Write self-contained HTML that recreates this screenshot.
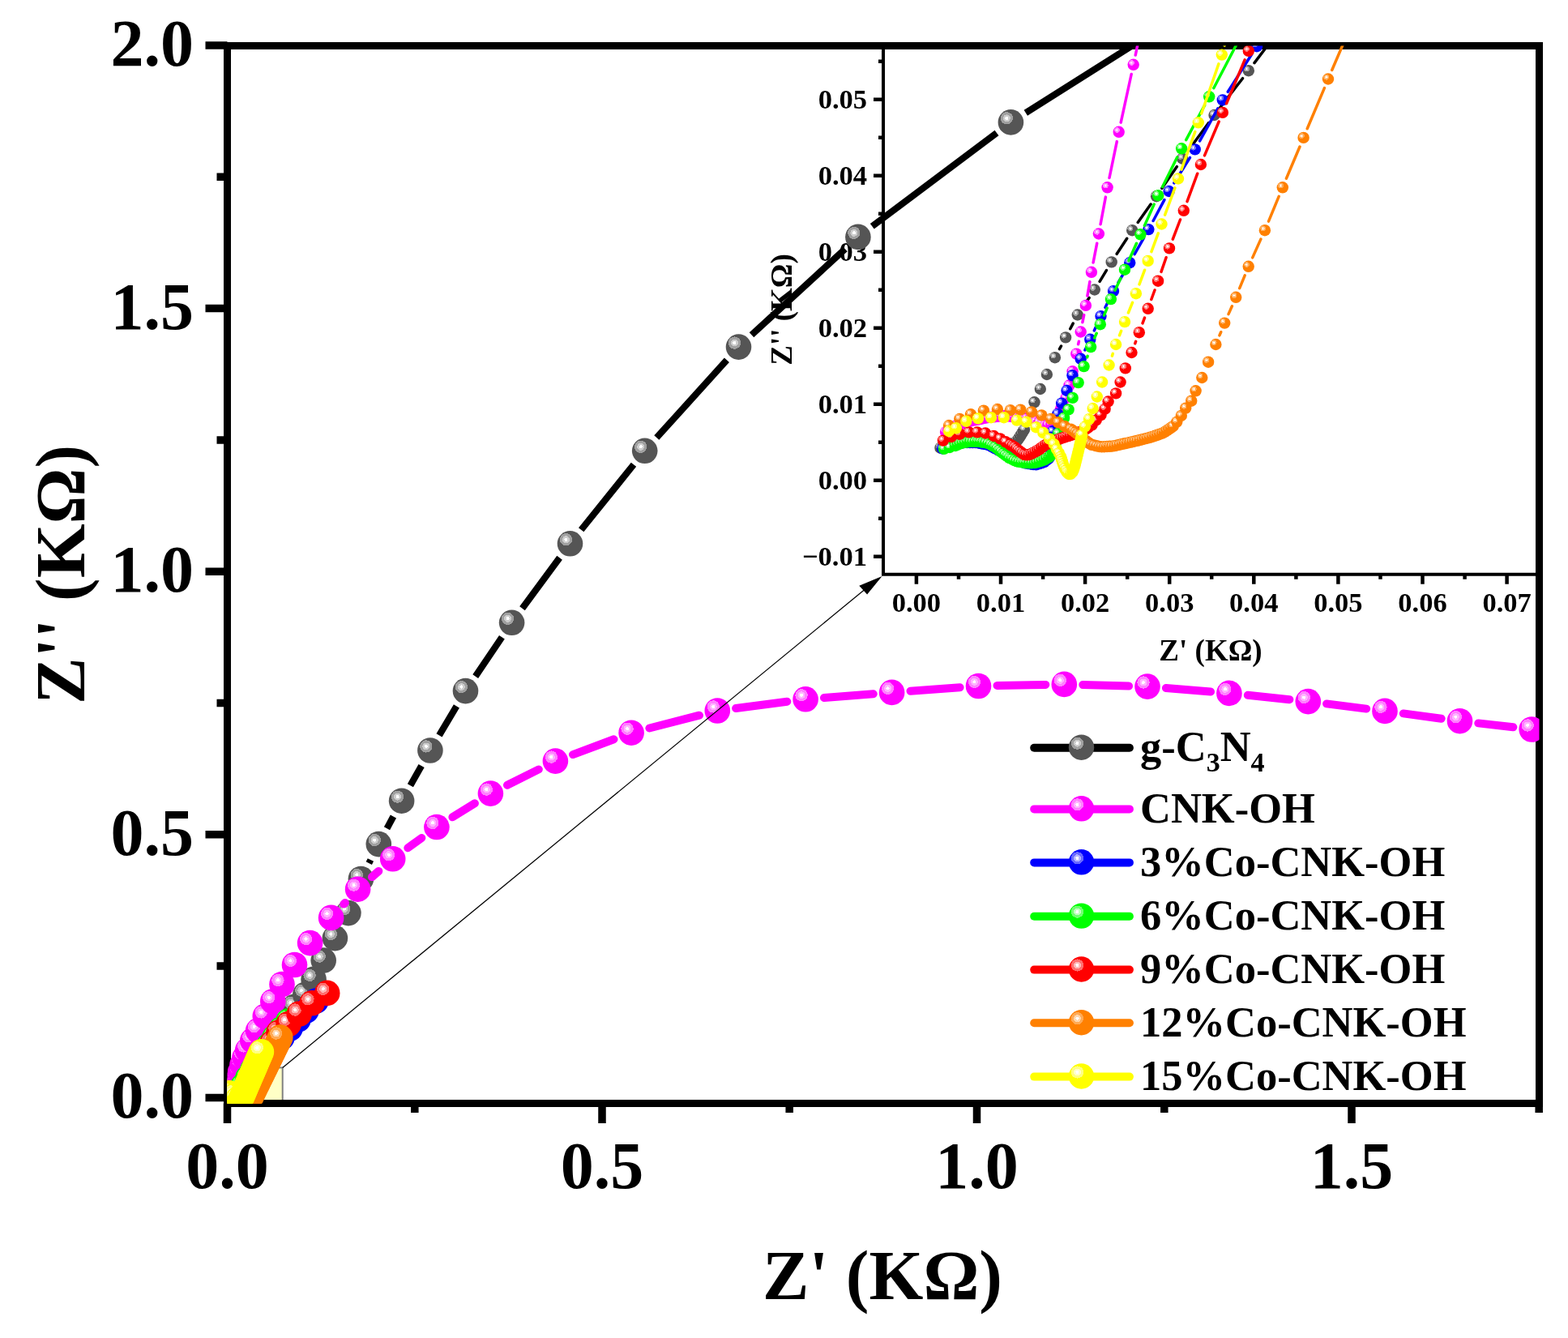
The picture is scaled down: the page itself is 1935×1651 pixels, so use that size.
<!DOCTYPE html>
<html><head><meta charset="utf-8"><title>Nyquist plot</title>
<style>html,body{margin:0;padding:0;background:#fff;width:1935px;height:1651px;overflow:hidden}svg{display:block}</style>
</head><body>
<svg width="1935" height="1651" viewBox="0 0 1935 1651">
<defs>
<radialGradient id="g_gray" cx="0.34" cy="0.34" r="0.5" fx="0.34" fy="0.34"><stop offset="0" stop-color="#ffffff"/><stop offset="0.13" stop-color="#ffffff"/><stop offset="0.13" stop-color="#cdcdcd"/><stop offset="0.28" stop-color="#cdcdcd"/><stop offset="0.28" stop-color="#a0a0a0"/><stop offset="0.48" stop-color="#a0a0a0"/><stop offset="0.48" stop-color="#555555"/><stop offset="1" stop-color="#555555"/></radialGradient>
<radialGradient id="g_magenta" cx="0.34" cy="0.34" r="0.5" fx="0.34" fy="0.34"><stop offset="0" stop-color="#ffffff"/><stop offset="0.13" stop-color="#ffffff"/><stop offset="0.13" stop-color="#ffb4ff"/><stop offset="0.28" stop-color="#ffb4ff"/><stop offset="0.28" stop-color="#ff80ff"/><stop offset="0.48" stop-color="#ff80ff"/><stop offset="0.48" stop-color="#ff00ff"/><stop offset="1" stop-color="#ff00ff"/></radialGradient>
<radialGradient id="g_blue" cx="0.34" cy="0.34" r="0.5" fx="0.34" fy="0.34"><stop offset="0" stop-color="#ffffff"/><stop offset="0.13" stop-color="#ffffff"/><stop offset="0.13" stop-color="#b4b4ff"/><stop offset="0.28" stop-color="#b4b4ff"/><stop offset="0.28" stop-color="#6a6aff"/><stop offset="0.48" stop-color="#6a6aff"/><stop offset="0.48" stop-color="#0000ff"/><stop offset="1" stop-color="#0000ff"/></radialGradient>
<radialGradient id="g_green" cx="0.34" cy="0.34" r="0.5" fx="0.34" fy="0.34"><stop offset="0" stop-color="#ffffff"/><stop offset="0.13" stop-color="#ffffff"/><stop offset="0.13" stop-color="#c0ffc0"/><stop offset="0.28" stop-color="#c0ffc0"/><stop offset="0.28" stop-color="#70ff70"/><stop offset="0.48" stop-color="#70ff70"/><stop offset="0.48" stop-color="#00ff00"/><stop offset="1" stop-color="#00ff00"/></radialGradient>
<radialGradient id="g_red" cx="0.34" cy="0.34" r="0.5" fx="0.34" fy="0.34"><stop offset="0" stop-color="#ffffff"/><stop offset="0.13" stop-color="#ffffff"/><stop offset="0.13" stop-color="#ffb8b8"/><stop offset="0.28" stop-color="#ffb8b8"/><stop offset="0.28" stop-color="#ff6e6e"/><stop offset="0.48" stop-color="#ff6e6e"/><stop offset="0.48" stop-color="#ff0000"/><stop offset="1" stop-color="#ff0000"/></radialGradient>
<radialGradient id="g_orange" cx="0.34" cy="0.34" r="0.5" fx="0.34" fy="0.34"><stop offset="0" stop-color="#ffffff"/><stop offset="0.13" stop-color="#ffffff"/><stop offset="0.13" stop-color="#ffd6ac"/><stop offset="0.28" stop-color="#ffd6ac"/><stop offset="0.28" stop-color="#ffaa55"/><stop offset="0.48" stop-color="#ffaa55"/><stop offset="0.48" stop-color="#ff8000"/><stop offset="1" stop-color="#ff8000"/></radialGradient>
<radialGradient id="g_yellow" cx="0.34" cy="0.34" r="0.5" fx="0.34" fy="0.34"><stop offset="0" stop-color="#ffffff"/><stop offset="0.13" stop-color="#ffffff"/><stop offset="0.13" stop-color="#ffffc8"/><stop offset="0.28" stop-color="#ffffc8"/><stop offset="0.28" stop-color="#ffff80"/><stop offset="0.48" stop-color="#ffff80"/><stop offset="0.48" stop-color="#ffff00"/><stop offset="1" stop-color="#ffff00"/></radialGradient>
<clipPath id="cmain"><rect x="280.5" y="56.5" width="1619" height="1305"/></clipPath>
<clipPath id="cins"><rect x="1090" y="56.5" width="809.5" height="652.3"/></clipPath>
</defs>
<rect x="277" y="1317.4" width="71.7" height="44" fill="#ffffc6" stroke="#808080" stroke-width="2"/>
<g stroke="#000" stroke-width="9" fill="none" stroke-linecap="square">
<path d="M280.5 56.5H1899.5V1361.5H280.5Z"/>
</g>
<path d="M280.5 1354.4H253.5 M280.5 1029.8H253.5 M280.5 705.2H253.5 M280.5 380.6H253.5 M280.5 56H253.5 M280.5 1192.1H267.5 M280.5 867.5H267.5 M280.5 542.9H267.5 M280.5 218.3H267.5 M280.5 1361.5V1386 M743 1361.5V1386 M1205.5 1361.5V1386 M1668 1361.5V1386 M511.8 1361.5V1373 M974.2 1361.5V1373 M1436.8 1361.5V1373 M1899.2 1361.5V1373" stroke="#000" stroke-width="9.5" fill="none"/>
<g font-family="'Liberation Serif','Times New Roman',serif" font-weight="bold" font-size="82" fill="#000"><text x="239" y="1379.4" text-anchor="end">0.0</text><text x="239" y="1054.8" text-anchor="end">0.5</text><text x="239" y="730.2" text-anchor="end">1.0</text><text x="239" y="405.6" text-anchor="end">1.5</text><text x="239" y="81" text-anchor="end">2.0</text><text x="280.5" y="1466" text-anchor="middle">0.0</text><text x="743" y="1466" text-anchor="middle">0.5</text><text x="1205.5" y="1466" text-anchor="middle">1.0</text><text x="1668" y="1466" text-anchor="middle">1.5</text></g>
<text font-family="'Liberation Serif','Times New Roman',serif" font-weight="bold" font-size="86" x="1089" y="1602.6" text-anchor="middle">Z&#39; (K&#937;)</text>
<text font-family="'Liberation Serif','Times New Roman',serif" font-weight="bold" font-size="86" transform="translate(104 708.8) rotate(-90)" text-anchor="middle">Z&#39;&#39; (K&#937;)</text>
<path d="M1090 56.5V708.8H1899.5" stroke="#000" stroke-width="4" fill="none" stroke-linecap="square"/>
<path d="M1090 686.8H1078 M1090 592.8H1078 M1090 498.8H1078 M1090 404.8H1078 M1090 310.8H1078 M1090 216.8H1078 M1090 122.8H1078 M1090 639.8H1084 M1090 545.8H1084 M1090 451.8H1084 M1090 357.8H1084 M1090 263.8H1084 M1090 169.8H1084 M1090 75.8H1084 M1130.9 708.8V720.8 M1235 708.8V720.8 M1339.1 708.8V720.8 M1443.2 708.8V720.8 M1547.3 708.8V720.8 M1651.4 708.8V720.8 M1755.5 708.8V720.8 M1859.6 708.8V720.8 M1183 708.8V714.8 M1287.1 708.8V714.8 M1391.2 708.8V714.8 M1495.2 708.8V714.8 M1599.4 708.8V714.8 M1703.5 708.8V714.8 M1807.6 708.8V714.8" stroke="#000" stroke-width="4.5" fill="none"/>
<g font-family="'Liberation Serif','Times New Roman',serif" font-weight="bold" font-size="34.5" fill="#000"><text x="1070" y="698" text-anchor="end">−0.01</text><text x="1070" y="604" text-anchor="end">0.00</text><text x="1070" y="510" text-anchor="end">0.01</text><text x="1070" y="416" text-anchor="end">0.02</text><text x="1070" y="322" text-anchor="end">0.03</text><text x="1070" y="228" text-anchor="end">0.04</text><text x="1070" y="134" text-anchor="end">0.05</text><text x="1130.9" y="755.2" text-anchor="middle">0.00</text><text x="1235" y="755.2" text-anchor="middle">0.01</text><text x="1339.1" y="755.2" text-anchor="middle">0.02</text><text x="1443.2" y="755.2" text-anchor="middle">0.03</text><text x="1547.3" y="755.2" text-anchor="middle">0.04</text><text x="1651.4" y="755.2" text-anchor="middle">0.05</text><text x="1755.5" y="755.2" text-anchor="middle">0.06</text><text x="1859.6" y="755.2" text-anchor="middle">0.07</text></g>
<text font-family="'Liberation Serif','Times New Roman',serif" font-weight="bold" font-size="37" x="1494" y="814.8" text-anchor="middle">Z&#39; (K&#937;)</text>
<text font-family="'Liberation Serif','Times New Roman',serif" font-weight="bold" font-size="37" transform="translate(977 382) rotate(-90)" text-anchor="middle">Z&#39;&#39; (K&#937;)</text>
<path d="M1276.2 922.8H1393.9" stroke="#000000" stroke-width="10" stroke-linecap="round"/>
<circle cx="1334.5" cy="922.2" r="15.7" fill="url(#g_gray)"/>
<text font-family="'Liberation Serif','Times New Roman',serif" font-weight="bold" font-size="52.5" x="1407" y="939">g-C<tspan font-size="34" dy="13">3</tspan><tspan dy="-13">N</tspan><tspan font-size="34" dy="13">4</tspan></text>
<path d="M1276.2 998.4H1393.9" stroke="#ff00ff" stroke-width="10" stroke-linecap="round"/>
<circle cx="1334.5" cy="997.8" r="15.7" fill="url(#g_magenta)"/>
<text font-family="'Liberation Serif','Times New Roman',serif" font-weight="bold" font-size="52.5" x="1407" y="1014.6">CNK-OH</text>
<path d="M1276.2 1064.4H1393.9" stroke="#0000ff" stroke-width="10" stroke-linecap="round"/>
<circle cx="1334.5" cy="1063.8" r="15.7" fill="url(#g_blue)"/>
<text font-family="'Liberation Serif','Times New Roman',serif" font-weight="bold" font-size="52.5" x="1407" y="1080.6">3%Co-CNK-OH</text>
<path d="M1276.2 1130.7H1393.9" stroke="#00ff00" stroke-width="10" stroke-linecap="round"/>
<circle cx="1334.5" cy="1130.1" r="15.7" fill="url(#g_green)"/>
<text font-family="'Liberation Serif','Times New Roman',serif" font-weight="bold" font-size="52.5" x="1407" y="1146.9">6%Co-CNK-OH</text>
<path d="M1276.2 1196.6H1393.9" stroke="#ff0000" stroke-width="10" stroke-linecap="round"/>
<circle cx="1334.5" cy="1196" r="15.7" fill="url(#g_red)"/>
<text font-family="'Liberation Serif','Times New Roman',serif" font-weight="bold" font-size="52.5" x="1407" y="1212.8">9%Co-CNK-OH</text>
<path d="M1276.2 1262.3H1393.9" stroke="#ff8000" stroke-width="10" stroke-linecap="round"/>
<circle cx="1334.5" cy="1261.7" r="15.7" fill="url(#g_orange)"/>
<text font-family="'Liberation Serif','Times New Roman',serif" font-weight="bold" font-size="52.5" x="1407" y="1278.5">12%Co-CNK-OH</text>
<path d="M1276.2 1328.6H1393.9" stroke="#ffff00" stroke-width="10" stroke-linecap="round"/>
<circle cx="1334.5" cy="1328" r="15.7" fill="url(#g_yellow)"/>
<text font-family="'Liberation Serif','Times New Roman',serif" font-weight="bold" font-size="52.5" x="1407" y="1344.8">15%Co-CNK-OH</text>
<g clip-path="url(#cmain)">
<path d="M437.4 1106.1L437.9 1105 M455.3 1065.1L457.4 1061 M477.5 1022.3L485.4 1007.5 M506.4 969.2L520.1 945 M542 907.3L563.4 871.3 M586.7 834.6L619.4 786.3 M644.5 750.8L690.6 688.3 M717.2 653.8L782 573.3 M810.3 540.1L896.9 444.3 M927.5 413.3L1042.9 307.2 M1076.3 279.3L1230 164 M1265.8 139.3L1480 4" stroke="#000000" stroke-width="8.2" stroke-linecap="butt" fill="none"/>
<circle cx="286" cy="1351" r="15.8" fill="url(#g_gray)"/>
<circle cx="292" cy="1342" r="15.8" fill="url(#g_gray)"/>
<circle cx="299" cy="1332" r="15.8" fill="url(#g_gray)"/>
<circle cx="306" cy="1321" r="15.8" fill="url(#g_gray)"/>
<circle cx="314" cy="1309" r="15.8" fill="url(#g_gray)"/>
<circle cx="322" cy="1296" r="15.8" fill="url(#g_gray)"/>
<circle cx="331" cy="1283" r="15.8" fill="url(#g_gray)"/>
<circle cx="341" cy="1270" r="15.8" fill="url(#g_gray)"/>
<circle cx="352" cy="1256" r="15.8" fill="url(#g_gray)"/>
<circle cx="363.5" cy="1242.3" r="15.8" fill="url(#g_gray)"/>
<circle cx="376.8" cy="1227.2" r="15.8" fill="url(#g_gray)"/>
<circle cx="387.1" cy="1208.4" r="15.8" fill="url(#g_gray)"/>
<circle cx="399.2" cy="1185.1" r="15.8" fill="url(#g_gray)"/>
<circle cx="413.4" cy="1157.6" r="15.8" fill="url(#g_gray)"/>
<circle cx="429.9" cy="1126.6" r="15.8" fill="url(#g_gray)"/>
<circle cx="445.4" cy="1084.5" r="15.8" fill="url(#g_gray)"/>
<circle cx="467.3" cy="1041.6" r="15.8" fill="url(#g_gray)"/>
<circle cx="495.6" cy="988.2" r="15.8" fill="url(#g_gray)"/>
<circle cx="530.9" cy="926" r="15.8" fill="url(#g_gray)"/>
<circle cx="574.5" cy="852.6" r="15.8" fill="url(#g_gray)"/>
<circle cx="631.6" cy="768.3" r="15.8" fill="url(#g_gray)"/>
<circle cx="703.5" cy="670.8" r="15.8" fill="url(#g_gray)"/>
<circle cx="795.7" cy="556.3" r="15.8" fill="url(#g_gray)"/>
<circle cx="911.5" cy="428.1" r="15.8" fill="url(#g_gray)"/>
<circle cx="1058.9" cy="292.4" r="15.8" fill="url(#g_gray)"/>
<circle cx="1247.4" cy="150.9" r="15.8" fill="url(#g_gray)"/>
<path d="M424.3 1115.6L425.9 1114 M459 1082.1L467.3 1074.9 M503.3 1046.3L520.3 1034 M558.4 1008.3L585.9 991.3 M626 968.8L664.8 949.4 M707 931.1L757.5 912.2 M801.4 898.5L863 882.7 M908.1 874L971.3 865.8 M1017 861L1077.7 856.2 M1123.5 852.7L1184.6 848.2 M1230.5 846L1290.3 844.9 M1336.3 845L1393 846.5 M1438.9 849L1494 853.5 M1539.8 857.8L1591.4 863.2 M1637.1 868.4L1686.2 874.6 M1731.8 880.4L1778.7 886.7 M1824.3 892.4L1867.4 897.3 M1913 902.7L1990 912" stroke="#ff00ff" stroke-width="10" stroke-linecap="round" fill="none"/>
<circle cx="289" cy="1350" r="15.8" fill="url(#g_magenta)"/>
<circle cx="291.5" cy="1341" r="15.8" fill="url(#g_magenta)"/>
<circle cx="294" cy="1332" r="15.8" fill="url(#g_magenta)"/>
<circle cx="296.5" cy="1323" r="15.8" fill="url(#g_magenta)"/>
<circle cx="299" cy="1314" r="15.8" fill="url(#g_magenta)"/>
<circle cx="301.9" cy="1305.1" r="15.8" fill="url(#g_magenta)"/>
<circle cx="305.7" cy="1296" r="15.8" fill="url(#g_magenta)"/>
<circle cx="311.8" cy="1283.9" r="15.8" fill="url(#g_magenta)"/>
<circle cx="318.6" cy="1271.8" r="15.8" fill="url(#g_magenta)"/>
<circle cx="327.3" cy="1254" r="15.8" fill="url(#g_magenta)"/>
<circle cx="336.8" cy="1235.7" r="15.8" fill="url(#g_magenta)"/>
<circle cx="348" cy="1214.5" r="15.8" fill="url(#g_magenta)"/>
<circle cx="363.5" cy="1190.5" r="15.8" fill="url(#g_magenta)"/>
<circle cx="382.6" cy="1163.6" r="15.8" fill="url(#g_magenta)"/>
<circle cx="408.6" cy="1132.4" r="15.8" fill="url(#g_magenta)"/>
<circle cx="441.6" cy="1097.2" r="15.8" fill="url(#g_magenta)"/>
<circle cx="484.7" cy="1059.8" r="15.8" fill="url(#g_magenta)"/>
<circle cx="538.9" cy="1020.5" r="15.8" fill="url(#g_magenta)"/>
<circle cx="605.4" cy="979.1" r="15.8" fill="url(#g_magenta)"/>
<circle cx="685.4" cy="939.1" r="15.8" fill="url(#g_magenta)"/>
<circle cx="779.1" cy="904.2" r="15.8" fill="url(#g_magenta)"/>
<circle cx="885.3" cy="877" r="15.8" fill="url(#g_magenta)"/>
<circle cx="994.1" cy="862.8" r="15.8" fill="url(#g_magenta)"/>
<circle cx="1100.6" cy="854.4" r="15.8" fill="url(#g_magenta)"/>
<circle cx="1207.5" cy="846.5" r="15.8" fill="url(#g_magenta)"/>
<circle cx="1313.3" cy="844.4" r="15.8" fill="url(#g_magenta)"/>
<circle cx="1416" cy="847.1" r="15.8" fill="url(#g_magenta)"/>
<circle cx="1516.9" cy="855.4" r="15.8" fill="url(#g_magenta)"/>
<circle cx="1614.3" cy="865.6" r="15.8" fill="url(#g_magenta)"/>
<circle cx="1709" cy="877.4" r="15.8" fill="url(#g_magenta)"/>
<circle cx="1801.5" cy="889.7" r="15.8" fill="url(#g_magenta)"/>
<circle cx="1890.2" cy="900" r="15.8" fill="url(#g_magenta)"/>
<circle cx="294" cy="1350" r="15.8" fill="url(#g_blue)"/>
<circle cx="303" cy="1338" r="15.8" fill="url(#g_blue)"/>
<circle cx="312" cy="1326" r="15.8" fill="url(#g_blue)"/>
<circle cx="321" cy="1314" r="15.8" fill="url(#g_blue)"/>
<circle cx="330" cy="1302" r="15.8" fill="url(#g_blue)"/>
<circle cx="339" cy="1291" r="15.8" fill="url(#g_blue)"/>
<circle cx="348" cy="1280" r="15.8" fill="url(#g_blue)"/>
<circle cx="358" cy="1269" r="15.8" fill="url(#g_blue)"/>
<circle cx="368" cy="1258" r="15.8" fill="url(#g_blue)"/>
<circle cx="378" cy="1247" r="15.8" fill="url(#g_blue)"/>
<circle cx="390" cy="1235" r="15.8" fill="url(#g_blue)"/>
<circle cx="295" cy="1349" r="15.8" fill="url(#g_green)"/>
<circle cx="300" cy="1340" r="15.8" fill="url(#g_green)"/>
<circle cx="306" cy="1330" r="15.8" fill="url(#g_green)"/>
<circle cx="312" cy="1320" r="15.8" fill="url(#g_green)"/>
<circle cx="318" cy="1310" r="15.8" fill="url(#g_green)"/>
<circle cx="325" cy="1300" r="15.8" fill="url(#g_green)"/>
<circle cx="332" cy="1290" r="15.8" fill="url(#g_green)"/>
<circle cx="339" cy="1280" r="15.8" fill="url(#g_green)"/>
<circle cx="347" cy="1270" r="15.8" fill="url(#g_green)"/>
<circle cx="356" cy="1260" r="15.8" fill="url(#g_green)"/>
<circle cx="303" cy="1352" r="15.8" fill="url(#g_red)"/>
<circle cx="309" cy="1339" r="15.8" fill="url(#g_red)"/>
<circle cx="315" cy="1326" r="15.8" fill="url(#g_red)"/>
<circle cx="322" cy="1313" r="15.8" fill="url(#g_red)"/>
<circle cx="329" cy="1300" r="15.8" fill="url(#g_red)"/>
<circle cx="336" cy="1287" r="15.8" fill="url(#g_red)"/>
<circle cx="344" cy="1274" r="15.8" fill="url(#g_red)"/>
<circle cx="356.2" cy="1263.5" r="15.8" fill="url(#g_red)"/>
<circle cx="369.2" cy="1251.1" r="15.8" fill="url(#g_red)"/>
<circle cx="385" cy="1237.8" r="15.8" fill="url(#g_red)"/>
<circle cx="403.7" cy="1225.4" r="15.8" fill="url(#g_red)"/>
<circle cx="300.2" cy="1373.1" r="15.8" fill="url(#g_orange)"/>
<circle cx="301.7" cy="1370.1" r="15.8" fill="url(#g_orange)"/>
<circle cx="303.2" cy="1367.1" r="15.8" fill="url(#g_orange)"/>
<circle cx="304.6" cy="1364.1" r="15.8" fill="url(#g_orange)"/>
<circle cx="306.1" cy="1361.1" r="15.8" fill="url(#g_orange)"/>
<circle cx="307.6" cy="1358.1" r="15.8" fill="url(#g_orange)"/>
<circle cx="309.1" cy="1355.1" r="15.8" fill="url(#g_orange)"/>
<circle cx="310.5" cy="1352.1" r="15.8" fill="url(#g_orange)"/>
<circle cx="312" cy="1349.1" r="15.8" fill="url(#g_orange)"/>
<circle cx="313.5" cy="1346.1" r="15.8" fill="url(#g_orange)"/>
<circle cx="314.9" cy="1343.1" r="15.8" fill="url(#g_orange)"/>
<circle cx="316.4" cy="1340.1" r="15.8" fill="url(#g_orange)"/>
<circle cx="317.9" cy="1337.1" r="15.8" fill="url(#g_orange)"/>
<circle cx="319.3" cy="1334.1" r="15.8" fill="url(#g_orange)"/>
<circle cx="320.8" cy="1331.1" r="15.8" fill="url(#g_orange)"/>
<circle cx="322.3" cy="1328.1" r="15.8" fill="url(#g_orange)"/>
<circle cx="323.8" cy="1325.1" r="15.8" fill="url(#g_orange)"/>
<circle cx="325.2" cy="1322.1" r="15.8" fill="url(#g_orange)"/>
<circle cx="326.7" cy="1319.1" r="15.8" fill="url(#g_orange)"/>
<circle cx="328.2" cy="1316.1" r="15.8" fill="url(#g_orange)"/>
<circle cx="329.6" cy="1313.1" r="15.8" fill="url(#g_orange)"/>
<circle cx="331.1" cy="1310.1" r="15.8" fill="url(#g_orange)"/>
<circle cx="332.6" cy="1307.1" r="15.8" fill="url(#g_orange)"/>
<circle cx="334" cy="1304.1" r="15.8" fill="url(#g_orange)"/>
<circle cx="335.5" cy="1301.1" r="15.8" fill="url(#g_orange)"/>
<circle cx="337" cy="1298.1" r="15.8" fill="url(#g_orange)"/>
<circle cx="338.4" cy="1295.1" r="15.8" fill="url(#g_orange)"/>
<circle cx="339.9" cy="1292.1" r="15.8" fill="url(#g_orange)"/>
<circle cx="341.4" cy="1289.1" r="15.8" fill="url(#g_orange)"/>
<circle cx="342.9" cy="1286.1" r="15.8" fill="url(#g_orange)"/>
<circle cx="344.3" cy="1283.1" r="15.8" fill="url(#g_orange)"/>
<circle cx="345.8" cy="1280.1" r="15.8" fill="url(#g_orange)"/>
<circle cx="281" cy="1348.5" r="15.8" fill="url(#g_yellow)"/>
<circle cx="283" cy="1349" r="15.8" fill="url(#g_yellow)"/>
<circle cx="286" cy="1350" r="15.8" fill="url(#g_yellow)"/>
<circle cx="290" cy="1352" r="15.8" fill="url(#g_yellow)"/>
<circle cx="294" cy="1356" r="15.8" fill="url(#g_yellow)"/>
<circle cx="295.3" cy="1360.9" r="15.8" fill="url(#g_yellow)"/>
<circle cx="296.6" cy="1357.9" r="15.8" fill="url(#g_yellow)"/>
<circle cx="297.9" cy="1354.9" r="15.8" fill="url(#g_yellow)"/>
<circle cx="299.2" cy="1351.9" r="15.8" fill="url(#g_yellow)"/>
<circle cx="300.5" cy="1348.9" r="15.8" fill="url(#g_yellow)"/>
<circle cx="301.8" cy="1345.9" r="15.8" fill="url(#g_yellow)"/>
<circle cx="303" cy="1342.9" r="15.8" fill="url(#g_yellow)"/>
<circle cx="304.3" cy="1339.9" r="15.8" fill="url(#g_yellow)"/>
<circle cx="305.6" cy="1336.9" r="15.8" fill="url(#g_yellow)"/>
<circle cx="306.9" cy="1333.9" r="15.8" fill="url(#g_yellow)"/>
<circle cx="308.2" cy="1330.9" r="15.8" fill="url(#g_yellow)"/>
<circle cx="309.5" cy="1327.9" r="15.8" fill="url(#g_yellow)"/>
<circle cx="310.8" cy="1324.9" r="15.8" fill="url(#g_yellow)"/>
<circle cx="312.1" cy="1321.9" r="15.8" fill="url(#g_yellow)"/>
<circle cx="313.4" cy="1318.9" r="15.8" fill="url(#g_yellow)"/>
<circle cx="314.7" cy="1315.9" r="15.8" fill="url(#g_yellow)"/>
<circle cx="315.9" cy="1312.9" r="15.8" fill="url(#g_yellow)"/>
<circle cx="317.2" cy="1309.9" r="15.8" fill="url(#g_yellow)"/>
<circle cx="318.5" cy="1306.9" r="15.8" fill="url(#g_yellow)"/>
<circle cx="319.8" cy="1303.9" r="15.8" fill="url(#g_yellow)"/>
<circle cx="321.1" cy="1300.9" r="15.8" fill="url(#g_yellow)"/>
<circle cx="322.4" cy="1297.9" r="15.8" fill="url(#g_yellow)"/>
</g>
<path d="M348.7 1317.4L1070 725" stroke="#000" stroke-width="1.25" fill="none"/>
<path d="M1088.5 710.9L1060.3 722.8L1070.1 733.6Z" fill="#000"/>
<g clip-path="url(#cins)">
<path d="M1268.2 518.7L1272.3 507.6 M1307.5 430.6L1309.5 427 M1320.7 405.8L1324.2 399.1 M1336.5 378.6L1344.1 367.4 M1357.1 347.3L1365.4 333.6 M1378.2 313.3L1390.7 294.3 M1404.2 274.4L1420.1 252 M1433.9 232.3L1452.4 205.6 M1466.3 186L1491.4 151.7 M1505.8 132.5L1533.5 96.7 M1548 77.6L1590 22" stroke="#000000" stroke-width="3.5" stroke-linecap="round" fill="none"/>
<circle cx="1160.5" cy="552.7" r="7.2" fill="url(#g_gray)"/>
<circle cx="1163.8" cy="551.6" r="7.2" fill="url(#g_gray)"/>
<circle cx="1167.1" cy="550.4" r="7.2" fill="url(#g_gray)"/>
<circle cx="1170.4" cy="549.3" r="7.2" fill="url(#g_gray)"/>
<circle cx="1173.7" cy="548.2" r="7.2" fill="url(#g_gray)"/>
<circle cx="1177.1" cy="547" r="7.2" fill="url(#g_gray)"/>
<circle cx="1180.4" cy="545.9" r="7.2" fill="url(#g_gray)"/>
<circle cx="1183.8" cy="545.4" r="7.2" fill="url(#g_gray)"/>
<circle cx="1187.3" cy="544.9" r="7.2" fill="url(#g_gray)"/>
<circle cx="1190.8" cy="544.4" r="7.2" fill="url(#g_gray)"/>
<circle cx="1194.2" cy="543.9" r="7.2" fill="url(#g_gray)"/>
<circle cx="1197.7" cy="543.3" r="7.2" fill="url(#g_gray)"/>
<circle cx="1201.2" cy="543.1" r="7.2" fill="url(#g_gray)"/>
<circle cx="1204.7" cy="543.2" r="7.2" fill="url(#g_gray)"/>
<circle cx="1208.1" cy="543.4" r="7.2" fill="url(#g_gray)"/>
<circle cx="1211.6" cy="543.6" r="7.2" fill="url(#g_gray)"/>
<circle cx="1215.1" cy="543.8" r="7.2" fill="url(#g_gray)"/>
<circle cx="1218.6" cy="543.9" r="7.2" fill="url(#g_gray)"/>
<circle cx="1222.1" cy="544.3" r="7.2" fill="url(#g_gray)"/>
<circle cx="1225.6" cy="544.8" r="7.2" fill="url(#g_gray)"/>
<circle cx="1229" cy="545.4" r="7.2" fill="url(#g_gray)"/>
<circle cx="1232.5" cy="545.9" r="7.2" fill="url(#g_gray)"/>
<circle cx="1236" cy="546.4" r="7.2" fill="url(#g_gray)"/>
<circle cx="1239.4" cy="546.9" r="7.2" fill="url(#g_gray)"/>
<circle cx="1242.9" cy="547.2" r="7.2" fill="url(#g_gray)"/>
<circle cx="1246.4" cy="547.5" r="7.2" fill="url(#g_gray)"/>
<circle cx="1249.9" cy="547.8" r="7.2" fill="url(#g_gray)"/>
<circle cx="1252.8" cy="546.9" r="7.2" fill="url(#g_gray)"/>
<circle cx="1254.9" cy="544.1" r="7.2" fill="url(#g_gray)"/>
<circle cx="1257" cy="541.3" r="7.2" fill="url(#g_gray)"/>
<circle cx="1259" cy="538.4" r="7.2" fill="url(#g_gray)"/>
<circle cx="1260.8" cy="535.4" r="7.2" fill="url(#g_gray)"/>
<circle cx="1262.6" cy="532.4" r="7.2" fill="url(#g_gray)"/>
<circle cx="1264" cy="530" r="7.2" fill="url(#g_gray)"/>
<circle cx="1276.5" cy="496.3" r="7.2" fill="url(#g_gray)"/>
<circle cx="1283.8" cy="480" r="7.2" fill="url(#g_gray)"/>
<circle cx="1291.9" cy="462" r="7.2" fill="url(#g_gray)"/>
<circle cx="1301.9" cy="441.2" r="7.2" fill="url(#g_gray)"/>
<circle cx="1315.1" cy="416.4" r="7.2" fill="url(#g_gray)"/>
<circle cx="1329.8" cy="388.5" r="7.2" fill="url(#g_gray)"/>
<circle cx="1350.8" cy="357.5" r="7.2" fill="url(#g_gray)"/>
<circle cx="1371.7" cy="323.4" r="7.2" fill="url(#g_gray)"/>
<circle cx="1397.2" cy="284.2" r="7.2" fill="url(#g_gray)"/>
<circle cx="1427.1" cy="242.2" r="7.2" fill="url(#g_gray)"/>
<circle cx="1459.2" cy="195.7" r="7.2" fill="url(#g_gray)"/>
<circle cx="1498.5" cy="142" r="7.2" fill="url(#g_gray)"/>
<circle cx="1540.8" cy="87.2" r="7.2" fill="url(#g_gray)"/>
<path d="M1330.6 424.8L1331.4 421.3 M1335.9 397.7L1337.7 388.7 M1341.9 365.1L1344.9 347.6 M1349.1 324L1353.7 300.3 M1358.1 276.7L1364.4 243.1 M1369 219.5L1378.3 174.6 M1383.2 151.1L1396.2 91.5 M1401.2 68.1L1410 26" stroke="#ff00ff" stroke-width="3.5" stroke-linecap="round" fill="none"/>
<circle cx="1167" cy="533" r="7.2" fill="url(#g_magenta)"/>
<circle cx="1170.4" cy="530.9" r="7.2" fill="url(#g_magenta)"/>
<circle cx="1173.8" cy="528.8" r="7.2" fill="url(#g_magenta)"/>
<circle cx="1177.2" cy="526.7" r="7.2" fill="url(#g_magenta)"/>
<circle cx="1180.7" cy="524.8" r="7.2" fill="url(#g_magenta)"/>
<circle cx="1184.5" cy="523.6" r="7.2" fill="url(#g_magenta)"/>
<circle cx="1188.4" cy="522.5" r="7.2" fill="url(#g_magenta)"/>
<circle cx="1192.2" cy="521.3" r="7.2" fill="url(#g_magenta)"/>
<circle cx="1196" cy="520.2" r="7.2" fill="url(#g_magenta)"/>
<circle cx="1199.9" cy="519" r="7.2" fill="url(#g_magenta)"/>
<circle cx="1203.8" cy="518.2" r="7.2" fill="url(#g_magenta)"/>
<circle cx="1207.7" cy="517.5" r="7.2" fill="url(#g_magenta)"/>
<circle cx="1211.6" cy="516.7" r="7.2" fill="url(#g_magenta)"/>
<circle cx="1215.5" cy="515.9" r="7.2" fill="url(#g_magenta)"/>
<circle cx="1219.5" cy="515.1" r="7.2" fill="url(#g_magenta)"/>
<circle cx="1223.4" cy="514.7" r="7.2" fill="url(#g_magenta)"/>
<circle cx="1227.4" cy="514.3" r="7.2" fill="url(#g_magenta)"/>
<circle cx="1231.4" cy="513.9" r="7.2" fill="url(#g_magenta)"/>
<circle cx="1235.4" cy="513.5" r="7.2" fill="url(#g_magenta)"/>
<circle cx="1239.4" cy="513.1" r="7.2" fill="url(#g_magenta)"/>
<circle cx="1243.3" cy="513.4" r="7.2" fill="url(#g_magenta)"/>
<circle cx="1247.3" cy="513.8" r="7.2" fill="url(#g_magenta)"/>
<circle cx="1251.3" cy="514.3" r="7.2" fill="url(#g_magenta)"/>
<circle cx="1255.3" cy="514.8" r="7.2" fill="url(#g_magenta)"/>
<circle cx="1259.2" cy="515.2" r="7.2" fill="url(#g_magenta)"/>
<circle cx="1263.2" cy="515.7" r="7.2" fill="url(#g_magenta)"/>
<circle cx="1267.1" cy="516.3" r="7.2" fill="url(#g_magenta)"/>
<circle cx="1271" cy="517.5" r="7.2" fill="url(#g_magenta)"/>
<circle cx="1274.8" cy="518.7" r="7.2" fill="url(#g_magenta)"/>
<circle cx="1278.6" cy="519.9" r="7.2" fill="url(#g_magenta)"/>
<circle cx="1282.3" cy="521.4" r="7.2" fill="url(#g_magenta)"/>
<circle cx="1286" cy="522.9" r="7.2" fill="url(#g_magenta)"/>
<circle cx="1289.7" cy="524.5" r="7.2" fill="url(#g_magenta)"/>
<circle cx="1293.5" cy="524.4" r="7.2" fill="url(#g_magenta)"/>
<circle cx="1297.4" cy="523.6" r="7.2" fill="url(#g_magenta)"/>
<circle cx="1300.7" cy="521.8" r="7.2" fill="url(#g_magenta)"/>
<circle cx="1302.6" cy="518.3" r="7.2" fill="url(#g_magenta)"/>
<circle cx="1304.5" cy="514.8" r="7.2" fill="url(#g_magenta)"/>
<circle cx="1306.3" cy="511.2" r="7.2" fill="url(#g_magenta)"/>
<circle cx="1307.9" cy="507.5" r="7.2" fill="url(#g_magenta)"/>
<circle cx="1309.4" cy="503.8" r="7.2" fill="url(#g_magenta)"/>
<circle cx="1310.9" cy="500.2" r="7.2" fill="url(#g_magenta)"/>
<circle cx="1315.5" cy="491" r="7.2" fill="url(#g_magenta)"/>
<circle cx="1319.5" cy="475.5" r="7.2" fill="url(#g_magenta)"/>
<circle cx="1323.6" cy="458.3" r="7.2" fill="url(#g_magenta)"/>
<circle cx="1328.3" cy="436.6" r="7.2" fill="url(#g_magenta)"/>
<circle cx="1333.7" cy="409.5" r="7.2" fill="url(#g_magenta)"/>
<circle cx="1339.9" cy="376.9" r="7.2" fill="url(#g_magenta)"/>
<circle cx="1346.9" cy="335.8" r="7.2" fill="url(#g_magenta)"/>
<circle cx="1355.9" cy="288.5" r="7.2" fill="url(#g_magenta)"/>
<circle cx="1366.6" cy="231.3" r="7.2" fill="url(#g_magenta)"/>
<circle cx="1380.7" cy="162.8" r="7.2" fill="url(#g_magenta)"/>
<circle cx="1398.7" cy="79.8" r="7.2" fill="url(#g_magenta)"/>
<path d="M1338.9 432L1340.1 429.6 M1350.3 407.9L1353.5 401 M1363.9 379.4L1368.6 369.8 M1380 348.7L1388.2 334.6 M1400.1 313.7L1411.5 293.6 M1423.1 272.5L1436.9 246.6 M1448.9 225.8L1468.4 194.6 M1480.6 173.9L1502.9 133.9 M1515.3 113.3L1544.5 67.3 M1557.1 46.9L1580 8" stroke="#0000ff" stroke-width="3.5" stroke-linecap="round" fill="none"/>
<circle cx="1163" cy="553.5" r="7.2" fill="url(#g_blue)"/>
<circle cx="1166.3" cy="552.3" r="7.2" fill="url(#g_blue)"/>
<circle cx="1169.6" cy="551" r="7.2" fill="url(#g_blue)"/>
<circle cx="1172.8" cy="549.8" r="7.2" fill="url(#g_blue)"/>
<circle cx="1176.2" cy="548.8" r="7.2" fill="url(#g_blue)"/>
<circle cx="1179.6" cy="548.1" r="7.2" fill="url(#g_blue)"/>
<circle cx="1183" cy="547.4" r="7.2" fill="url(#g_blue)"/>
<circle cx="1186.5" cy="546.7" r="7.2" fill="url(#g_blue)"/>
<circle cx="1189.9" cy="546" r="7.2" fill="url(#g_blue)"/>
<circle cx="1193.4" cy="546" r="7.2" fill="url(#g_blue)"/>
<circle cx="1196.9" cy="546" r="7.2" fill="url(#g_blue)"/>
<circle cx="1200.4" cy="546" r="7.2" fill="url(#g_blue)"/>
<circle cx="1203.9" cy="546" r="7.2" fill="url(#g_blue)"/>
<circle cx="1207.3" cy="546.5" r="7.2" fill="url(#g_blue)"/>
<circle cx="1210.8" cy="547.2" r="7.2" fill="url(#g_blue)"/>
<circle cx="1214.2" cy="547.8" r="7.2" fill="url(#g_blue)"/>
<circle cx="1217.6" cy="548.5" r="7.2" fill="url(#g_blue)"/>
<circle cx="1221" cy="549.5" r="7.2" fill="url(#g_blue)"/>
<circle cx="1224" cy="551.2" r="7.2" fill="url(#g_blue)"/>
<circle cx="1227.1" cy="552.8" r="7.2" fill="url(#g_blue)"/>
<circle cx="1230.2" cy="554.5" r="7.2" fill="url(#g_blue)"/>
<circle cx="1233.3" cy="556.1" r="7.2" fill="url(#g_blue)"/>
<circle cx="1236.4" cy="557.7" r="7.2" fill="url(#g_blue)"/>
<circle cx="1239.5" cy="559.4" r="7.2" fill="url(#g_blue)"/>
<circle cx="1242.6" cy="561" r="7.2" fill="url(#g_blue)"/>
<circle cx="1245.7" cy="562.7" r="7.2" fill="url(#g_blue)"/>
<circle cx="1248.8" cy="564.3" r="7.2" fill="url(#g_blue)"/>
<circle cx="1251.9" cy="565.8" r="7.2" fill="url(#g_blue)"/>
<circle cx="1255.1" cy="567.2" r="7.2" fill="url(#g_blue)"/>
<circle cx="1258.3" cy="568.6" r="7.2" fill="url(#g_blue)"/>
<circle cx="1261.6" cy="570" r="7.2" fill="url(#g_blue)"/>
<circle cx="1264.8" cy="571.4" r="7.2" fill="url(#g_blue)"/>
<circle cx="1268.2" cy="572" r="7.2" fill="url(#g_blue)"/>
<circle cx="1271.7" cy="572.5" r="7.2" fill="url(#g_blue)"/>
<circle cx="1275.1" cy="573.1" r="7.2" fill="url(#g_blue)"/>
<circle cx="1278.6" cy="573.3" r="7.2" fill="url(#g_blue)"/>
<circle cx="1281.9" cy="572.3" r="7.2" fill="url(#g_blue)"/>
<circle cx="1285.3" cy="571.3" r="7.2" fill="url(#g_blue)"/>
<circle cx="1288.5" cy="570.1" r="7.2" fill="url(#g_blue)"/>
<circle cx="1291.3" cy="567.9" r="7.2" fill="url(#g_blue)"/>
<circle cx="1294" cy="565.8" r="7.2" fill="url(#g_blue)"/>
<circle cx="1295.9" cy="562.9" r="7.2" fill="url(#g_blue)"/>
<circle cx="1297.3" cy="559.7" r="7.2" fill="url(#g_blue)"/>
<circle cx="1298.8" cy="556.6" r="7.2" fill="url(#g_blue)"/>
<circle cx="1299.4" cy="553.1" r="7.2" fill="url(#g_blue)"/>
<circle cx="1299.9" cy="549.7" r="7.2" fill="url(#g_blue)"/>
<circle cx="1300.3" cy="546.2" r="7.2" fill="url(#g_blue)"/>
<circle cx="1300.3" cy="542.7" r="7.2" fill="url(#g_blue)"/>
<circle cx="1300.1" cy="539.2" r="7.2" fill="url(#g_blue)"/>
<circle cx="1299.7" cy="535.7" r="7.2" fill="url(#g_blue)"/>
<circle cx="1299.1" cy="532.3" r="7.2" fill="url(#g_blue)"/>
<circle cx="1305.3" cy="510.9" r="7.2" fill="url(#g_blue)"/>
<circle cx="1310.1" cy="497.6" r="7.2" fill="url(#g_blue)"/>
<circle cx="1316.5" cy="482" r="7.2" fill="url(#g_blue)"/>
<circle cx="1323.5" cy="463.3" r="7.2" fill="url(#g_blue)"/>
<circle cx="1333.7" cy="442.8" r="7.2" fill="url(#g_blue)"/>
<circle cx="1345.3" cy="418.8" r="7.2" fill="url(#g_blue)"/>
<circle cx="1358.5" cy="390.1" r="7.2" fill="url(#g_blue)"/>
<circle cx="1374" cy="359.1" r="7.2" fill="url(#g_blue)"/>
<circle cx="1394.2" cy="324.2" r="7.2" fill="url(#g_blue)"/>
<circle cx="1417.4" cy="283.1" r="7.2" fill="url(#g_blue)"/>
<circle cx="1442.6" cy="236" r="7.2" fill="url(#g_blue)"/>
<circle cx="1474.7" cy="184.4" r="7.2" fill="url(#g_blue)"/>
<circle cx="1508.8" cy="123.4" r="7.2" fill="url(#g_blue)"/>
<circle cx="1551" cy="57.2" r="7.2" fill="url(#g_blue)"/>
<path d="M1341.6 440.8L1342.1 439.4 M1350.7 417L1353.2 411.3 M1362.5 389.1L1366.2 380.2 M1376 358.2L1382.9 343.6 M1392.9 321.7L1402.5 300.3 M1412.4 278.4L1424.2 252.1 M1434.6 230.5L1452.7 194 M1463.7 172.7L1486.6 129.9 M1497.8 108.7L1540 28" stroke="#00ff00" stroke-width="3.5" stroke-linecap="round" fill="none"/>
<circle cx="1165" cy="553.9" r="7.2" fill="url(#g_green)"/>
<circle cx="1172" cy="552" r="7.2" fill="url(#g_green)"/>
<circle cx="1179" cy="550" r="7.2" fill="url(#g_green)"/>
<circle cx="1181.9" cy="548.7" r="7.2" fill="url(#g_green)"/>
<circle cx="1184.8" cy="547.3" r="7.2" fill="url(#g_green)"/>
<circle cx="1187.9" cy="546.5" r="7.2" fill="url(#g_green)"/>
<circle cx="1191" cy="545.9" r="7.2" fill="url(#g_green)"/>
<circle cx="1194.2" cy="545.3" r="7.2" fill="url(#g_green)"/>
<circle cx="1197.3" cy="544.8" r="7.2" fill="url(#g_green)"/>
<circle cx="1200.5" cy="544.8" r="7.2" fill="url(#g_green)"/>
<circle cx="1203.7" cy="544.8" r="7.2" fill="url(#g_green)"/>
<circle cx="1206.9" cy="544.8" r="7.2" fill="url(#g_green)"/>
<circle cx="1210.1" cy="545.2" r="7.2" fill="url(#g_green)"/>
<circle cx="1213.2" cy="545.8" r="7.2" fill="url(#g_green)"/>
<circle cx="1216.4" cy="546.4" r="7.2" fill="url(#g_green)"/>
<circle cx="1219.5" cy="547" r="7.2" fill="url(#g_green)"/>
<circle cx="1222.3" cy="548.5" r="7.2" fill="url(#g_green)"/>
<circle cx="1225.1" cy="550.1" r="7.2" fill="url(#g_green)"/>
<circle cx="1227.9" cy="551.6" r="7.2" fill="url(#g_green)"/>
<circle cx="1230.5" cy="553.5" r="7.2" fill="url(#g_green)"/>
<circle cx="1233" cy="555.6" r="7.2" fill="url(#g_green)"/>
<circle cx="1235.5" cy="557.6" r="7.2" fill="url(#g_green)"/>
<circle cx="1238" cy="559.5" r="7.2" fill="url(#g_green)"/>
<circle cx="1240.6" cy="561.4" r="7.2" fill="url(#g_green)"/>
<circle cx="1243.2" cy="563.2" r="7.2" fill="url(#g_green)"/>
<circle cx="1245.8" cy="565.1" r="7.2" fill="url(#g_green)"/>
<circle cx="1248.7" cy="566.5" r="7.2" fill="url(#g_green)"/>
<circle cx="1251.5" cy="568" r="7.2" fill="url(#g_green)"/>
<circle cx="1254.5" cy="569.2" r="7.2" fill="url(#g_green)"/>
<circle cx="1257.6" cy="569.8" r="7.2" fill="url(#g_green)"/>
<circle cx="1260.8" cy="570.4" r="7.2" fill="url(#g_green)"/>
<circle cx="1263.9" cy="571" r="7.2" fill="url(#g_green)"/>
<circle cx="1267.1" cy="571.2" r="7.2" fill="url(#g_green)"/>
<circle cx="1270.3" cy="571.2" r="7.2" fill="url(#g_green)"/>
<circle cx="1273.5" cy="571.2" r="7.2" fill="url(#g_green)"/>
<circle cx="1276.7" cy="571.1" r="7.2" fill="url(#g_green)"/>
<circle cx="1279.7" cy="570.3" r="7.2" fill="url(#g_green)"/>
<circle cx="1282.8" cy="569.4" r="7.2" fill="url(#g_green)"/>
<circle cx="1285.9" cy="568.5" r="7.2" fill="url(#g_green)"/>
<circle cx="1288.9" cy="567.3" r="7.2" fill="url(#g_green)"/>
<circle cx="1291.6" cy="565.7" r="7.2" fill="url(#g_green)"/>
<circle cx="1294.4" cy="564.2" r="7.2" fill="url(#g_green)"/>
<circle cx="1296.7" cy="561.9" r="7.2" fill="url(#g_green)"/>
<circle cx="1299" cy="559.6" r="7.2" fill="url(#g_green)"/>
<circle cx="1300" cy="556.6" r="7.2" fill="url(#g_green)"/>
<circle cx="1300.9" cy="553.6" r="7.2" fill="url(#g_green)"/>
<circle cx="1301.8" cy="550.5" r="7.2" fill="url(#g_green)"/>
<circle cx="1302.6" cy="547.4" r="7.2" fill="url(#g_green)"/>
<circle cx="1303.4" cy="544.3" r="7.2" fill="url(#g_green)"/>
<circle cx="1304.2" cy="541.2" r="7.2" fill="url(#g_green)"/>
<circle cx="1305" cy="538.1" r="7.2" fill="url(#g_green)"/>
<circle cx="1305.8" cy="535" r="7.2" fill="url(#g_green)"/>
<circle cx="1313.1" cy="515.7" r="7.2" fill="url(#g_green)"/>
<circle cx="1318.6" cy="505.4" r="7.2" fill="url(#g_green)"/>
<circle cx="1323.7" cy="490.9" r="7.2" fill="url(#g_green)"/>
<circle cx="1330.7" cy="472.1" r="7.2" fill="url(#g_green)"/>
<circle cx="1337.6" cy="452.1" r="7.2" fill="url(#g_green)"/>
<circle cx="1346.1" cy="428.1" r="7.2" fill="url(#g_green)"/>
<circle cx="1357.8" cy="400.2" r="7.2" fill="url(#g_green)"/>
<circle cx="1370.9" cy="369.1" r="7.2" fill="url(#g_green)"/>
<circle cx="1388" cy="332.7" r="7.2" fill="url(#g_green)"/>
<circle cx="1407.4" cy="289.3" r="7.2" fill="url(#g_green)"/>
<circle cx="1429.2" cy="241.2" r="7.2" fill="url(#g_green)"/>
<circle cx="1458.1" cy="183.3" r="7.2" fill="url(#g_green)"/>
<circle cx="1492.2" cy="119.3" r="7.2" fill="url(#g_green)"/>
<path d="M1400.7 423.8L1401.6 421.4 M1410 398.9L1412.5 392.1 M1420.8 369.5L1425 358 M1433 335.4L1439.1 317.7 M1447.3 295.2L1456.5 271 M1465 248.6L1477.7 214.2 M1486.5 191.9L1504.2 150 M1513.5 127.8L1536.1 73.9 M1545.4 51.7L1565 5" stroke="#ff0000" stroke-width="3.5" stroke-linecap="round" fill="none"/>
<circle cx="1163.9" cy="543.6" r="7.2" fill="url(#g_red)"/>
<circle cx="1174" cy="539" r="7.2" fill="url(#g_red)"/>
<circle cx="1184.3" cy="535.7" r="7.2" fill="url(#g_red)"/>
<circle cx="1195.7" cy="533.4" r="7.2" fill="url(#g_red)"/>
<circle cx="1205.9" cy="533.4" r="7.2" fill="url(#g_red)"/>
<circle cx="1216.1" cy="534.5" r="7.2" fill="url(#g_red)"/>
<circle cx="1226.4" cy="538" r="7.2" fill="url(#g_red)"/>
<circle cx="1234.3" cy="541.4" r="7.2" fill="url(#g_red)"/>
<circle cx="1241.1" cy="545.3" r="7.2" fill="url(#g_red)"/>
<circle cx="1246.8" cy="548.8" r="7.2" fill="url(#g_red)"/>
<circle cx="1249.4" cy="550.2" r="7.2" fill="url(#g_red)"/>
<circle cx="1252" cy="551.7" r="7.2" fill="url(#g_red)"/>
<circle cx="1254.3" cy="553.6" r="7.2" fill="url(#g_red)"/>
<circle cx="1256.6" cy="555.5" r="7.2" fill="url(#g_red)"/>
<circle cx="1259" cy="557.3" r="7.2" fill="url(#g_red)"/>
<circle cx="1261.5" cy="559.1" r="7.2" fill="url(#g_red)"/>
<circle cx="1263.9" cy="560.8" r="7.2" fill="url(#g_red)"/>
<circle cx="1266.7" cy="561.3" r="7.2" fill="url(#g_red)"/>
<circle cx="1269.7" cy="561.1" r="7.2" fill="url(#g_red)"/>
<circle cx="1272.5" cy="560.1" r="7.2" fill="url(#g_red)"/>
<circle cx="1275.1" cy="558.7" r="7.2" fill="url(#g_red)"/>
<circle cx="1277.8" cy="557.3" r="7.2" fill="url(#g_red)"/>
<circle cx="1280.4" cy="555.8" r="7.2" fill="url(#g_red)"/>
<circle cx="1282.9" cy="554.3" r="7.2" fill="url(#g_red)"/>
<circle cx="1285.3" cy="552.4" r="7.2" fill="url(#g_red)"/>
<circle cx="1287.7" cy="550.5" r="7.2" fill="url(#g_red)"/>
<circle cx="1290.3" cy="549" r="7.2" fill="url(#g_red)"/>
<circle cx="1292.9" cy="547.6" r="7.2" fill="url(#g_red)"/>
<circle cx="1295.5" cy="546.1" r="7.2" fill="url(#g_red)"/>
<circle cx="1298.2" cy="544.9" r="7.2" fill="url(#g_red)"/>
<circle cx="1301" cy="543.9" r="7.2" fill="url(#g_red)"/>
<circle cx="1303.9" cy="542.9" r="7.2" fill="url(#g_red)"/>
<circle cx="1306.7" cy="541.9" r="7.2" fill="url(#g_red)"/>
<circle cx="1309.5" cy="540.9" r="7.2" fill="url(#g_red)"/>
<circle cx="1312.4" cy="539.9" r="7.2" fill="url(#g_red)"/>
<circle cx="1315.2" cy="539" r="7.2" fill="url(#g_red)"/>
<circle cx="1318.1" cy="538.1" r="7.2" fill="url(#g_red)"/>
<circle cx="1320.9" cy="537.2" r="7.2" fill="url(#g_red)"/>
<circle cx="1323.8" cy="536.3" r="7.2" fill="url(#g_red)"/>
<circle cx="1326.6" cy="535.3" r="7.2" fill="url(#g_red)"/>
<circle cx="1329.4" cy="534.2" r="7.2" fill="url(#g_red)"/>
<circle cx="1332.3" cy="533.2" r="7.2" fill="url(#g_red)"/>
<circle cx="1335.1" cy="532.1" r="7.2" fill="url(#g_red)"/>
<circle cx="1337.8" cy="530.9" r="7.2" fill="url(#g_red)"/>
<circle cx="1340.3" cy="529.2" r="7.2" fill="url(#g_red)"/>
<circle cx="1342.8" cy="527.6" r="7.2" fill="url(#g_red)"/>
<circle cx="1347.6" cy="524.5" r="7.2" fill="url(#g_red)"/>
<circle cx="1352.7" cy="518.5" r="7.2" fill="url(#g_red)"/>
<circle cx="1358.5" cy="512.2" r="7.2" fill="url(#g_red)"/>
<circle cx="1363.6" cy="504.7" r="7.2" fill="url(#g_red)"/>
<circle cx="1367.6" cy="495.5" r="7.2" fill="url(#g_red)"/>
<circle cx="1377.1" cy="485.4" r="7.2" fill="url(#g_red)"/>
<circle cx="1382.6" cy="471.5" r="7.2" fill="url(#g_red)"/>
<circle cx="1388.8" cy="454.4" r="7.2" fill="url(#g_red)"/>
<circle cx="1396.5" cy="435" r="7.2" fill="url(#g_red)"/>
<circle cx="1405.8" cy="410.2" r="7.2" fill="url(#g_red)"/>
<circle cx="1416.7" cy="380.8" r="7.2" fill="url(#g_red)"/>
<circle cx="1429.1" cy="346.7" r="7.2" fill="url(#g_red)"/>
<circle cx="1443" cy="306.4" r="7.2" fill="url(#g_red)"/>
<circle cx="1460.8" cy="259.8" r="7.2" fill="url(#g_red)"/>
<circle cx="1481.9" cy="203" r="7.2" fill="url(#g_red)"/>
<circle cx="1508.8" cy="138.9" r="7.2" fill="url(#g_red)"/>
<circle cx="1540.8" cy="62.8" r="7.2" fill="url(#g_red)"/>
<path d="M1504.9 413.9L1506.7 409.7 M1516 387.6L1520.4 377.8 M1529.7 355.7L1536.2 339.9 M1545.7 317.9L1555.9 295.1 M1565.5 273.1L1578.2 242.4 M1587.4 220.2L1604 181 M1613.2 158.8L1634.4 108.6 M1643.7 86.5L1680 2" stroke="#ff8000" stroke-width="3.5" stroke-linecap="round" fill="none"/>
<circle cx="1171" cy="525" r="7.2" fill="url(#g_orange)"/>
<circle cx="1184.3" cy="516.9" r="7.2" fill="url(#g_orange)"/>
<circle cx="1198" cy="511.3" r="7.2" fill="url(#g_orange)"/>
<circle cx="1213.9" cy="506.7" r="7.2" fill="url(#g_orange)"/>
<circle cx="1230.9" cy="505" r="7.2" fill="url(#g_orange)"/>
<circle cx="1246.8" cy="506.1" r="7.2" fill="url(#g_orange)"/>
<circle cx="1259.3" cy="505.6" r="7.2" fill="url(#g_orange)"/>
<circle cx="1273" cy="508.4" r="7.2" fill="url(#g_orange)"/>
<circle cx="1285.4" cy="512.4" r="7.2" fill="url(#g_orange)"/>
<circle cx="1296.8" cy="516.9" r="7.2" fill="url(#g_orange)"/>
<circle cx="1305.9" cy="521.3" r="7.2" fill="url(#g_orange)"/>
<circle cx="1314" cy="526" r="7.2" fill="url(#g_orange)"/>
<circle cx="1321.6" cy="529.7" r="7.2" fill="url(#g_orange)"/>
<circle cx="1324.3" cy="531.5" r="7.2" fill="url(#g_orange)"/>
<circle cx="1326.9" cy="533.3" r="7.2" fill="url(#g_orange)"/>
<circle cx="1329.4" cy="535.2" r="7.2" fill="url(#g_orange)"/>
<circle cx="1331.8" cy="537.4" r="7.2" fill="url(#g_orange)"/>
<circle cx="1334.2" cy="539.5" r="7.2" fill="url(#g_orange)"/>
<circle cx="1336.7" cy="541.5" r="7.2" fill="url(#g_orange)"/>
<circle cx="1339.3" cy="543.4" r="7.2" fill="url(#g_orange)"/>
<circle cx="1341.8" cy="545.3" r="7.2" fill="url(#g_orange)"/>
<circle cx="1344.4" cy="547.2" r="7.2" fill="url(#g_orange)"/>
<circle cx="1347.1" cy="548.8" r="7.2" fill="url(#g_orange)"/>
<circle cx="1350.3" cy="549.5" r="7.2" fill="url(#g_orange)"/>
<circle cx="1353.4" cy="550.3" r="7.2" fill="url(#g_orange)"/>
<circle cx="1356.5" cy="551" r="7.2" fill="url(#g_orange)"/>
<circle cx="1359.6" cy="551.4" r="7.2" fill="url(#g_orange)"/>
<circle cx="1362.8" cy="551.2" r="7.2" fill="url(#g_orange)"/>
<circle cx="1366" cy="551" r="7.2" fill="url(#g_orange)"/>
<circle cx="1369.2" cy="550.8" r="7.2" fill="url(#g_orange)"/>
<circle cx="1372.4" cy="550.6" r="7.2" fill="url(#g_orange)"/>
<circle cx="1375.6" cy="550.1" r="7.2" fill="url(#g_orange)"/>
<circle cx="1378.7" cy="549.4" r="7.2" fill="url(#g_orange)"/>
<circle cx="1381.8" cy="548.7" r="7.2" fill="url(#g_orange)"/>
<circle cx="1384.9" cy="548" r="7.2" fill="url(#g_orange)"/>
<circle cx="1388" cy="547.3" r="7.2" fill="url(#g_orange)"/>
<circle cx="1391.2" cy="546.6" r="7.2" fill="url(#g_orange)"/>
<circle cx="1394.3" cy="545.9" r="7.2" fill="url(#g_orange)"/>
<circle cx="1397.4" cy="545.2" r="7.2" fill="url(#g_orange)"/>
<circle cx="1400.5" cy="544.5" r="7.2" fill="url(#g_orange)"/>
<circle cx="1403.6" cy="543.8" r="7.2" fill="url(#g_orange)"/>
<circle cx="1406.8" cy="543" r="7.2" fill="url(#g_orange)"/>
<circle cx="1409.8" cy="542.2" r="7.2" fill="url(#g_orange)"/>
<circle cx="1412.9" cy="541.4" r="7.2" fill="url(#g_orange)"/>
<circle cx="1416" cy="540.6" r="7.2" fill="url(#g_orange)"/>
<circle cx="1419.1" cy="539.8" r="7.2" fill="url(#g_orange)"/>
<circle cx="1422.2" cy="538.9" r="7.2" fill="url(#g_orange)"/>
<circle cx="1425.2" cy="537.8" r="7.2" fill="url(#g_orange)"/>
<circle cx="1428.2" cy="536.8" r="7.2" fill="url(#g_orange)"/>
<circle cx="1431.2" cy="535.7" r="7.2" fill="url(#g_orange)"/>
<circle cx="1434.3" cy="534.6" r="7.2" fill="url(#g_orange)"/>
<circle cx="1437.1" cy="533.2" r="7.2" fill="url(#g_orange)"/>
<circle cx="1439.8" cy="531.4" r="7.2" fill="url(#g_orange)"/>
<circle cx="1442.4" cy="529.6" r="7.2" fill="url(#g_orange)"/>
<circle cx="1445" cy="527.8" r="7.2" fill="url(#g_orange)"/>
<circle cx="1447.7" cy="526" r="7.2" fill="url(#g_orange)"/>
<circle cx="1452.3" cy="520.6" r="7.2" fill="url(#g_orange)"/>
<circle cx="1457.8" cy="512.9" r="7.2" fill="url(#g_orange)"/>
<circle cx="1463.2" cy="503.6" r="7.2" fill="url(#g_orange)"/>
<circle cx="1470.2" cy="494.7" r="7.2" fill="url(#g_orange)"/>
<circle cx="1475.6" cy="482.3" r="7.2" fill="url(#g_orange)"/>
<circle cx="1483.3" cy="466" r="7.2" fill="url(#g_orange)"/>
<circle cx="1491.1" cy="446.7" r="7.2" fill="url(#g_orange)"/>
<circle cx="1500.4" cy="425" r="7.2" fill="url(#g_orange)"/>
<circle cx="1511.2" cy="398.6" r="7.2" fill="url(#g_orange)"/>
<circle cx="1525.2" cy="366.8" r="7.2" fill="url(#g_orange)"/>
<circle cx="1540.7" cy="328.8" r="7.2" fill="url(#g_orange)"/>
<circle cx="1560.9" cy="284.2" r="7.2" fill="url(#g_orange)"/>
<circle cx="1582.8" cy="231.3" r="7.2" fill="url(#g_orange)"/>
<circle cx="1608.6" cy="169.9" r="7.2" fill="url(#g_orange)"/>
<circle cx="1639" cy="97.5" r="7.2" fill="url(#g_orange)"/>
<path d="M1372.4 439.1L1373.3 436.4 M1381.5 413.8L1383.6 408.3 M1392.4 386L1397.5 373.3 M1406 350.9L1412.6 333.2 M1420.9 310.6L1429.3 287.8 M1437.6 265.2L1449.9 231.8 M1458 209.2L1474.8 162.6 M1482.7 140L1503.9 78.9 M1511.2 56.1L1522 20" stroke="#ffff00" stroke-width="3.5" stroke-linecap="round" fill="none"/>
<circle cx="1171" cy="532" r="7.2" fill="url(#g_yellow)"/>
<circle cx="1179.8" cy="528.3" r="7.2" fill="url(#g_yellow)"/>
<circle cx="1192.3" cy="519.8" r="7.2" fill="url(#g_yellow)"/>
<circle cx="1207" cy="516.4" r="7.2" fill="url(#g_yellow)"/>
<circle cx="1223" cy="515.2" r="7.2" fill="url(#g_yellow)"/>
<circle cx="1238.9" cy="515.2" r="7.2" fill="url(#g_yellow)"/>
<circle cx="1254.8" cy="518.6" r="7.2" fill="url(#g_yellow)"/>
<circle cx="1266.5" cy="520.6" r="7.2" fill="url(#g_yellow)"/>
<circle cx="1278.6" cy="527.2" r="7.2" fill="url(#g_yellow)"/>
<circle cx="1287.3" cy="533.8" r="7.2" fill="url(#g_yellow)"/>
<circle cx="1294.9" cy="541.4" r="7.2" fill="url(#g_yellow)"/>
<circle cx="1300.7" cy="548" r="7.2" fill="url(#g_yellow)"/>
<circle cx="1304" cy="554.2" r="7.2" fill="url(#g_yellow)"/>
<circle cx="1306.9" cy="559.2" r="7.2" fill="url(#g_yellow)"/>
<circle cx="1309.1" cy="563.6" r="7.2" fill="url(#g_yellow)"/>
<circle cx="1310" cy="566.5" r="7.2" fill="url(#g_yellow)"/>
<circle cx="1310.8" cy="569.3" r="7.2" fill="url(#g_yellow)"/>
<circle cx="1311.8" cy="572.2" r="7.2" fill="url(#g_yellow)"/>
<circle cx="1312.8" cy="575" r="7.2" fill="url(#g_yellow)"/>
<circle cx="1313.9" cy="577.8" r="7.2" fill="url(#g_yellow)"/>
<circle cx="1315.3" cy="580.5" r="7.2" fill="url(#g_yellow)"/>
<circle cx="1316.9" cy="582.9" r="7.2" fill="url(#g_yellow)"/>
<circle cx="1319" cy="585" r="7.2" fill="url(#g_yellow)"/>
<circle cx="1321.2" cy="584.8" r="7.2" fill="url(#g_yellow)"/>
<circle cx="1323.3" cy="582.7" r="7.2" fill="url(#g_yellow)"/>
<circle cx="1324.6" cy="580.1" r="7.2" fill="url(#g_yellow)"/>
<circle cx="1325.6" cy="577.3" r="7.2" fill="url(#g_yellow)"/>
<circle cx="1326.5" cy="574.4" r="7.2" fill="url(#g_yellow)"/>
<circle cx="1327.2" cy="571.5" r="7.2" fill="url(#g_yellow)"/>
<circle cx="1327.9" cy="568.6" r="7.2" fill="url(#g_yellow)"/>
<circle cx="1328.6" cy="565.7" r="7.2" fill="url(#g_yellow)"/>
<circle cx="1329.3" cy="562.8" r="7.2" fill="url(#g_yellow)"/>
<circle cx="1330" cy="559.8" r="7.2" fill="url(#g_yellow)"/>
<circle cx="1330.7" cy="556.9" r="7.2" fill="url(#g_yellow)"/>
<circle cx="1331.4" cy="554" r="7.2" fill="url(#g_yellow)"/>
<circle cx="1332.1" cy="551.1" r="7.2" fill="url(#g_yellow)"/>
<circle cx="1332.7" cy="548.1" r="7.2" fill="url(#g_yellow)"/>
<circle cx="1333.4" cy="545.2" r="7.2" fill="url(#g_yellow)"/>
<circle cx="1334" cy="542.3" r="7.2" fill="url(#g_yellow)"/>
<circle cx="1334.6" cy="539.3" r="7.2" fill="url(#g_yellow)"/>
<circle cx="1335.1" cy="536.4" r="7.2" fill="url(#g_yellow)"/>
<circle cx="1338.9" cy="526.5" r="7.2" fill="url(#g_yellow)"/>
<circle cx="1344" cy="517.1" r="7.2" fill="url(#g_yellow)"/>
<circle cx="1348.7" cy="504" r="7.2" fill="url(#g_yellow)"/>
<circle cx="1353.8" cy="489.5" r="7.2" fill="url(#g_yellow)"/>
<circle cx="1360.1" cy="471.5" r="7.2" fill="url(#g_yellow)"/>
<circle cx="1368.6" cy="450.5" r="7.2" fill="url(#g_yellow)"/>
<circle cx="1377.1" cy="425" r="7.2" fill="url(#g_yellow)"/>
<circle cx="1388" cy="397.1" r="7.2" fill="url(#g_yellow)"/>
<circle cx="1401.9" cy="362.2" r="7.2" fill="url(#g_yellow)"/>
<circle cx="1416.7" cy="321.9" r="7.2" fill="url(#g_yellow)"/>
<circle cx="1433.5" cy="276.5" r="7.2" fill="url(#g_yellow)"/>
<circle cx="1454" cy="220.5" r="7.2" fill="url(#g_yellow)"/>
<circle cx="1478.8" cy="151.3" r="7.2" fill="url(#g_yellow)"/>
<circle cx="1507.8" cy="67.6" r="7.2" fill="url(#g_yellow)"/>
</g>
</svg>
</body></html>
